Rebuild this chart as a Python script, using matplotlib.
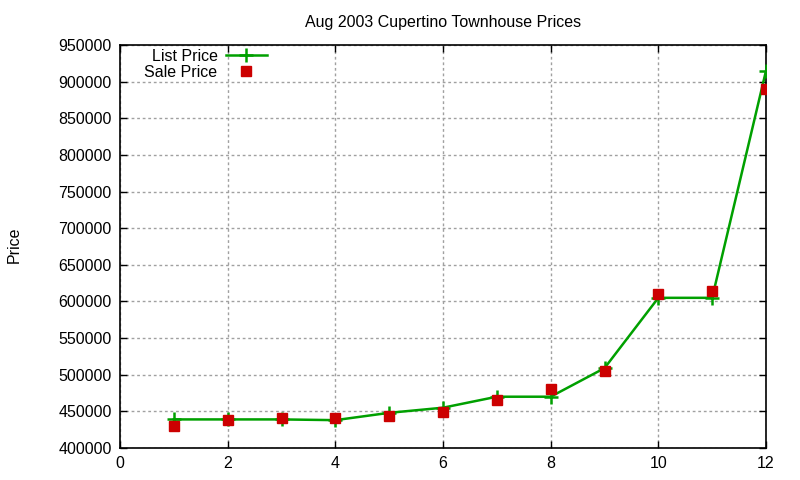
import matplotlib
matplotlib.use("Agg")
import matplotlib.pyplot as plt
import matplotlib.ticker as mticker

# house number (sorted by price) and prices
house = [1, 2, 3, 4, 5, 6, 7, 8, 9, 10, 11, 12]
list_price = [439000, 439000, 439000, 438000, 448000, 455000,
              470000, 470000, 509000, 605000, 605000, 915000]
sale_price = [430500, 438000, 441000, 441000, 443000, 448500,
              466000, 480000, 505000, 610000, 615000, 890000]

GREEN = "#00a000"
RED = "#cc0000"
GRID = "#a0a0a0"

plt.rcParams["font.family"] = ["Liberation Sans", "DejaVu Sans"]

fig = plt.figure(figsize=(8, 4.8), dpi=100)
ax = fig.add_axes([0.15, 0.0667, 0.8075, 0.8393])

ax.plot(house, list_price, color=GREEN, linewidth=1.8, marker="+",
        markersize=10, markeredgewidth=1.8, label="List Price", zorder=3)
ax.plot(house, sale_price, linestyle="none", color=RED, marker="s",
        markersize=7, label="Sale Price", zorder=4)

ax.set_xlim(0, 12)
ax.set_ylim(400000, 950000)
ax.xaxis.set_major_locator(mticker.MultipleLocator(2))
ax.yaxis.set_major_locator(mticker.MultipleLocator(50000))
ax.yaxis.set_major_formatter(mticker.FuncFormatter(lambda v, _: f"{int(v)}"))

ax.grid(True, color=GRID, linestyle=(0, (2, 2)), linewidth=1)
ax.set_axisbelow(True)
ax.tick_params(direction="in", top=True, right=True, length=5,
               labelsize=11.5, pad=6, width=1)
for s in ax.spines.values():
    s.set_linewidth(1.2)

ax.set_title("Aug 2003 Cupertino Townhouse Prices", fontsize=11.5, pad=13)
fig.text(0.018, 0.49, "Price", rotation=90, fontsize=11.5,
         ha="center", va="center")

ax.legend(loc="upper left", bbox_to_anchor=(0.018, 1.022), frameon=False,
          markerfirst=False, handlelength=2.6, handletextpad=0.5,
          labelspacing=0.05, fontsize=11.5, borderpad=0.3)

fig.savefig("out.png", dpi=100)
